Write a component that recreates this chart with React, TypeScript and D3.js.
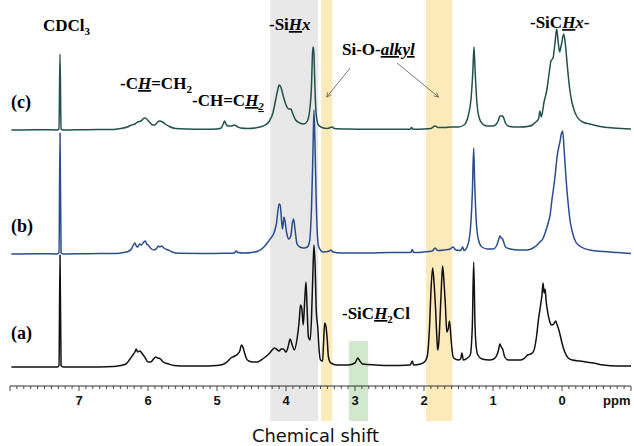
import React from "react";
import * as d3 from "d3";

// ---------- data (ppm, intensity) ----------
const traceC: [number, number][] = [
  [7.98,0],[7.6,0.3],[7.32,0],[7.29,1],[7.275,76],[7.26,1],[7.23,0],[6.9,0.3],[6.5,0.5],[6.4,1.5],[6.3,3],[6.24,5],[6.19,6],[6.15,8],[6.1,9],[6.05,12],[6.02,11],[5.98,8],[5.93,5],[5.9,5],[5.86,8],[5.83,9],[5.79,8],[5.75,6],[5.69,3.5],[5.6,1.5],[5.45,1],[5.2,0.8],[5.0,1],[4.94,2],[4.91,6],[4.89,9],[4.87,6],[4.84,4],[4.79,4],[4.75,5],[4.71,3.5],[4.66,2],[4.55,1.5],[4.45,2],[4.38,3],[4.3,5],[4.24,9],[4.19,17],[4.15,30],[4.12,40],[4.1,45],[4.07,42],[4.04,34],[4.0,25],[3.96,21],[3.93,21],[3.9,16],[3.86,10],[3.8,7],[3.74,6],[3.69,9],[3.66,18],[3.63,45],[3.615,78],[3.605,83],[3.595,76],[3.58,40],[3.56,14],[3.53,5],[3.48,2.5],[3.4,1.5],[3.33,3],[3.3,1.5],[3.1,1],[2.8,0.8],[2.5,0.7],[2.2,0.8],[2.18,2.5],[2.16,0.8],[2.0,1],[1.9,1.5],[1.86,3.5],[1.835,4],[1.8,2.5],[1.7,2.5],[1.6,3],[1.5,3],[1.42,5],[1.36,14],[1.32,30],[1.295,55],[1.275,83],[1.26,60],[1.235,29],[1.2,12],[1.15,6],[1.09,4],[1.0,4],[0.95,6],[0.92,10],[0.9,14],[0.87,14],[0.85,13],[0.82,7],[0.78,4],[0.7,3],[0.6,3],[0.5,3.5],[0.43,5],[0.38,8],[0.34,11],[0.32,19],[0.3,13],[0.26,28],[0.22,40],[0.18,60],[0.16,69],[0.13,72],[0.1,88],[0.077,101],[0.055,88],[0.035,78],[0.01,85],[-0.025,96],[-0.05,85],[-0.08,62],[-0.11,42],[-0.14,29],[-0.18,19],[-0.22,13],[-0.3,8],[-0.4,6],[-0.55,3.5],[-0.75,2],[-1.0,1]
];

const traceB: [number, number][] = [
  [7.98,0],[7.6,0.3],[7.32,0],[7.29,1.5],[7.275,121],[7.26,1.5],[7.23,0],[6.9,0.3],[6.45,0.5],[6.35,1.5],[6.29,2.5],[6.24,5],[6.22,8],[6.19,11],[6.17,8],[6.15,7],[6.12,10],[6.1,9],[6.06,12],[6.04,13],[6.02,10],[6.0,9],[5.95,5],[5.91,4],[5.87,6],[5.85,8],[5.83,7],[5.8,8],[5.77,6],[5.71,4],[5.65,2],[5.55,0.7],[5.2,0.5],[4.9,0.7],[4.75,1],[4.72,3],[4.7,1.5],[4.6,1],[4.5,1.5],[4.4,3],[4.32,7],[4.26,12],[4.22,16],[4.18,20],[4.14,30],[4.1,50],[4.085,49],[4.06,30],[4.05,25],[4.03,37],[4.015,33],[3.99,21],[3.96,15],[3.93,18],[3.91,30],[3.89,35],[3.87,25],[3.84,10],[3.8,7],[3.74,6],[3.69,7],[3.66,12],[3.63,47],[3.61,100],[3.595,144],[3.58,110],[3.56,47],[3.53,8],[3.49,3],[3.46,2],[3.37,3],[3.35,4],[3.32,2],[3.2,1],[2.8,1],[2.5,1.5],[2.19,1.5],[2.17,4.5],[2.15,1.5],[2.0,2],[1.88,3],[1.84,6],[1.8,3.5],[1.7,4],[1.62,5],[1.58,7],[1.54,4],[1.47,3.5],[1.44,7],[1.42,3.5],[1.37,8],[1.33,23],[1.3,60],[1.28,106],[1.265,70],[1.24,30],[1.21,14],[1.16,7],[1.08,5],[1.0,5],[0.95,8],[0.92,14],[0.9,18],[0.88,16],[0.86,15],[0.82,7],[0.75,5],[0.62,4],[0.5,4],[0.42,6],[0.36,9],[0.32,12],[0.28,15],[0.24,22],[0.2,31],[0.17,40],[0.15,52],[0.13,62],[0.1,78],[0.07,98],[0.05,106],[0.03,112],[0.01,120],[-0.01,123],[-0.03,105],[-0.06,74],[-0.09,50],[-0.12,32],[-0.15,22],[-0.2,12],[-0.28,7],[-0.4,4],[-0.6,2.5],[-0.8,1.5],[-1.0,0.5]
];

const traceA: [number, number][] = [
  [7.98,0],[7.6,0],[7.31,0],[7.29,1.5],[7.275,112],[7.26,1.5],[7.23,0],[6.9,0],[6.5,0.5],[6.4,1.5],[6.32,3],[6.26,8],[6.22,12],[6.19,15],[6.17,18],[6.15,15],[6.12,16],[6.08,13],[6.04,9],[6.0,5],[5.96,5],[5.92,8],[5.89,10],[5.86,9],[5.82,8],[5.78,5],[5.72,3.5],[5.62,1.5],[5.45,1],[5.25,1],[5.0,1.5],[4.9,3],[4.84,6],[4.8,9],[4.74,11],[4.7,13],[4.67,16],[4.645,22],[4.62,19],[4.6,14],[4.57,8],[4.54,6],[4.48,5],[4.42,5],[4.36,7],[4.3,10],[4.25,13],[4.2,17],[4.17,19],[4.14,18],[4.1,16],[4.07,18],[4.04,18],[4.0,15],[3.97,20],[3.94,28],[3.91,22],[3.88,17],[3.84,28],[3.81,45],[3.79,62],[3.77,58],[3.75,42],[3.73,65],[3.71,85],[3.695,60],[3.675,30],[3.65,27],[3.63,50],[3.61,95],[3.595,122],[3.58,105],[3.56,55],[3.54,40],[3.52,17],[3.5,7],[3.47,6],[3.455,25],[3.44,44],[3.42,40],[3.405,30],[3.385,10],[3.35,4],[3.26,2],[3.1,2],[3.0,4],[2.96,9],[2.93,6],[2.89,3],[2.7,2],[2.5,1.5],[2.2,2],[2.17,6],[2.15,2],[2.05,3],[1.98,6],[1.95,12],[1.92,40],[1.9,75],[1.875,99],[1.855,85],[1.835,62],[1.81,25],[1.8,17],[1.785,25],[1.77,45],[1.745,85],[1.73,101],[1.71,85],[1.69,62],[1.67,35],[1.65,38],[1.63,46],[1.61,30],[1.59,15],[1.57,9],[1.5,7],[1.47,8],[1.45,14],[1.43,7],[1.37,9],[1.33,12],[1.3,40],[1.28,105],[1.26,40],[1.24,18],[1.22,12],[1.16,8],[1.05,7],[0.99,8],[0.95,11],[0.92,17],[0.9,23],[0.88,20],[0.86,18],[0.83,10],[0.78,7],[0.7,7],[0.6,7],[0.54,9],[0.5,12],[0.45,13],[0.41,16],[0.37,30],[0.34,48],[0.31,62],[0.29,72],[0.275,84],[0.26,74],[0.245,78],[0.23,66],[0.21,56],[0.18,46],[0.15,42],[0.12,43],[0.09,46],[0.07,42],[0.05,38],[0.02,30],[0.0,24],[-0.04,15],[-0.09,9],[-0.15,7],[-0.26,6],[-0.35,5],[-0.45,4],[-0.6,2],[-0.8,1],[-1.0,1]
];

const majorTicks = [8, 7, 6, 5, 4, 3, 2, 1, 0, -1];
const tickLabels = ["7", "6", "5", "4", "3", "2", "1", "0"];
const greyBand: [number, number] = [4.23, 3.535];
const orangeBands: [number, number][] = [[3.49, 3.33], [1.97, 1.59]];
const greenBand: [number, number] = [3.09, 2.81];
const arrowsPpm: { from: [number, number]; to: [number, number] }[] = [
  { from: [3.07, 68], to: [3.41, 97] },
  { from: [2.39, 63], to: [1.79, 97] },
];

// ---------- layout ----------
const W = 634, H = 446;
const x = d3.scaleLinear().domain([8, -1]).range([10, 631]);
const baselines = { c: 130, b: 254, a: 367 };
const axisY = 386;

const mkLine = (base: number) => {
  const y = d3.scaleLinear().domain([0, 100]).range([base, base - 100]);
  return d3.line<[number, number]>().x(d => x(d[0])).y(d => y(d[1])).curve(d3.curveMonotoneX);
};

const serif = "'Liberation Serif', 'Times New Roman', serif";
const sans = "'Liberation Sans', Arial, sans-serif";

export default function App() {
  const minor = d3.range(0, 91).map(i => 8 - i * 0.1);
  const lbl = { fontFamily: serif, fontWeight: 700, fontSize: 17, fill: "#000" } as const;
  const it = { fontStyle: "italic", textDecoration: "underline" } as const;
  return (
    <svg width={W} height={H} style={{ position: "absolute", left: 0, top: 0, background: "#fff" }}>
      <defs>
        <marker id="arr" viewBox="0 0 10 10" refX="9" refY="5" markerWidth="7" markerHeight="7" orient="auto">
          <path d="M1,1 L9,5 L1,9" fill="none" stroke="#555" strokeWidth={1.2} />
        </marker>
      </defs>
      <rect x={0} y={0} width={W} height={H} fill="#fff" />
      {/* bands */}
      <rect x={x(greyBand[0])} y={0} width={x(greyBand[1]) - x(greyBand[0])} height={421} fill="#e8e8e8" />
      {orangeBands.map((b, i) => (
        <rect key={i} x={x(b[0])} y={0} width={x(b[1]) - x(b[0])} height={421} fill="#fdeabb" />
      ))}
      <rect x={x(greenBand[0])} y={341} width={x(greenBand[1]) - x(greenBand[0])} height={80} fill="#d1e8cd" />

      {/* traces */}
      <path d={mkLine(baselines.a)(traceA) || ""} fill="none" stroke="#111" strokeWidth={1.5} strokeLinejoin="round" />
      <path d={mkLine(baselines.b)(traceB) || ""} fill="none" stroke="#2b4c8c" strokeWidth={1.5} strokeLinejoin="round" />
      <path d={mkLine(baselines.c)(traceC) || ""} fill="none" stroke="#22504b" strokeWidth={1.5} strokeLinejoin="round" />

      {/* axis */}
      <line x1={x(8)} x2={x(-1)} y1={axisY} y2={axisY} stroke="#333" strokeWidth={1} />
      {minor.map((v, i) => {
        const isMajor = majorTicks.some(m => Math.abs(m - v) < 1e-6);
        return <line key={i} x1={x(v)} x2={x(v)} y1={axisY} y2={axisY + (isMajor ? 5 : 3)} stroke="#333" strokeWidth={0.9} />;
      })}
      {tickLabels.map(t => (
        <text key={t} x={x(+t)} y={405} textAnchor="middle" fontFamily={sans} fontWeight={700} fontSize={13} fill="#111">{t}</text>
      ))}
      <text x={603} y={405} fontFamily={sans} fontWeight={700} fontSize={13} fill="#111">ppm</text>
      <text x={252} y={442} fontFamily="'Liberation Sans Narrow', 'DejaVu Sans Condensed', Arial, sans-serif" fontSize={18} fill="#111" textLength={127} lengthAdjust="spacingAndGlyphs">Chemical shift</text>

      {/* arrows */}
      {arrowsPpm.map((a, i) => (
        <line key={i} x1={x(a.from[0])} y1={a.from[1]} x2={x(a.to[0])} y2={a.to[1]} stroke="#555" strokeWidth={0.8} markerEnd="url(#arr)" />
      ))}

      {/* labels */}
      <text x={43} y={31} {...lbl}>CDCl<tspan dy={4} fontSize={11}>3</tspan></text>
      <text x={120} y={89} {...lbl}>-C<tspan {...it}>H</tspan>=CH<tspan dy={4} fontSize={11}>2</tspan></text>
      <text x={192} y={106} {...lbl}>-CH=C<tspan {...it}>H</tspan><tspan dy={4} fontSize={11} {...it}>2</tspan></text>
      <text x={269} y={30} {...lbl}>-Si<tspan {...it}>H</tspan><tspan fontStyle="italic">x</tspan></text>
      <text x={342} y={55} {...lbl}>Si-O-<tspan {...it}>alkyl</tspan></text>
      <text x={530} y={28} {...lbl}>-SiC<tspan {...it}>H</tspan><tspan fontStyle="italic">x</tspan>-</text>
      <text x={342} y={319} {...lbl}>-SiC<tspan {...it}>H</tspan><tspan dy={4} fontSize={11}>2</tspan><tspan dy={-4}>Cl</tspan></text>
      <text x={11} y={108} {...lbl} fontSize={18}>(c)</text>
      <text x={11} y={232} {...lbl} fontSize={18}>(b)</text>
      <text x={11} y={339} {...lbl} fontSize={18}>(a)</text>
    </svg>
  );
}
